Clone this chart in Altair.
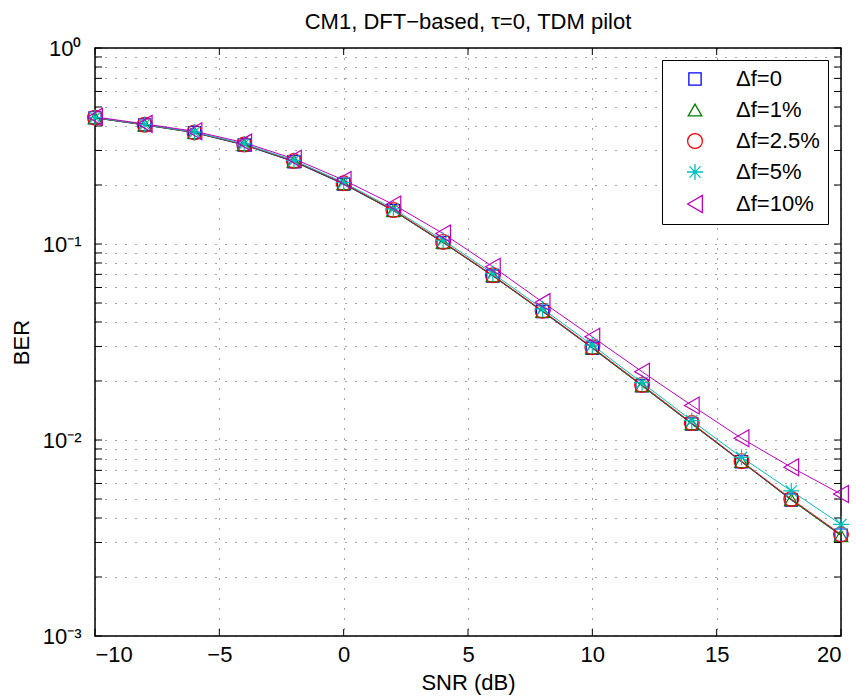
import json
import altair as alt
import pandas as pd

# ---------------- data ----------------
snr = [-10, -8, -6, -4, -2, 0, 2, 4, 6, 8, 10, 12, 14, 16, 18, 20]

ber_df0 = [0.440, 0.405, 0.370, 0.320, 0.263, 0.202, 0.148, 0.1016, 0.0687, 0.0452,
           0.0294, 0.0189, 0.01207, 0.00774, 0.00494, 0.00327]
ber_df1 = [0.440, 0.405, 0.370, 0.321, 0.264, 0.203, 0.148, 0.1018, 0.0688, 0.0453,
           0.0295, 0.0189, 0.0121, 0.00776, 0.00495, 0.00325]
ber_df25 = [0.441, 0.406, 0.371, 0.322, 0.265, 0.204, 0.149, 0.1025, 0.0692, 0.0456,
            0.0297, 0.0191, 0.0122, 0.0078, 0.0050, 0.0033]
ber_df5 = [0.442, 0.407, 0.372, 0.324, 0.267, 0.206, 0.151, 0.1045, 0.0707, 0.0467,
           0.0305, 0.0196, 0.01255, 0.00816, 0.0055, 0.00371]
ber_df10 = [0.445, 0.410, 0.376, 0.329, 0.272, 0.212, 0.159, 0.113, 0.0765, 0.0505,
            0.0336, 0.0223, 0.0150, 0.0102, 0.00726, 0.0053]

series_names = ["\u0394f=0", "\u0394f=1%", "\u0394f=2.5%", "\u0394f=5%", "\u0394f=10%"]
series_values = [ber_df0, ber_df1, ber_df25, ber_df5, ber_df10]

x_tick_values = [-10, -5, 0, 5, 10, 15, 20]
x_tick_labels = ["\u221210", "\u22125", "0", "5", "10", "15", "20"]
y_label_values = [0.001, 0.01, 0.1, 1]
y_label_texts = ["10\u207b\u00b3", "10\u207b\u00b2", "10\u207b\u00b9", "10\u2070"]
y_grid_values = [round(m * 10.0 ** e, 6) for e in (-3, -2, -1) for m in range(1, 10)] + [1]

title_text = "CM1, DFT\u2212based, \u03c4=0, TDM pilot"
x_title = "SNR (dB)"
y_title = "BER"

# ---------------- style ----------------
colors = ["#0000FF", "#008000", "#FF0000", "#00BFBF", "#BF00BF"]
STAR = "M-1,0L1,0M0,-1L0,1M-0.7,-0.7L0.7,0.7M-0.7,0.7L0.7,-0.7"
shapes = ["square", "triangle-up", "circle", STAR, "triangle-left"]
sizes = [150, 290, 220, 170, 300]
FONT = "Liberation Sans"
W, H = 746, 588

rows = []
for i, (name, vals) in enumerate(zip(series_names, series_values)):
    for s, v in zip(snr, vals):
        rows.append({"snr": s, "ber": v, "series": name, "line_id": i})
df = pd.DataFrame(rows)

xscale = alt.Scale(domain=[-10, 20], nice=False, zero=False)
yscale = alt.Scale(type="log", domain=[0.001, 1], nice=False)

x_expr = f"{json.dumps(x_tick_labels, ensure_ascii=False)}[indexof({json.dumps(x_tick_values)}, datum.value)]"
y_expr = (f"indexof({json.dumps(y_label_values)}, datum.value) >= 0 ? "
          f"{json.dumps(y_label_texts, ensure_ascii=False)}[indexof({json.dumps(y_label_values)}, datum.value)] : ''")

x_axis = alt.Axis(values=x_tick_values, labelExpr=x_expr, grid=True, gridDash=[1, 9],
                  gridColor="#000000", gridOpacity=0.7, gridWidth=1, ticks=False, tickSize=0,
                  domain=False, labelFont=FONT, labelFontSize=22, labelColor="black",
                  labelPadding=8, title=x_title, titleFont=FONT, titleFontSize=22,
                  titleFontWeight="normal", titleColor="black", titleY=53,
                  titleBaseline="alphabetic")
y_axis = alt.Axis(values=y_grid_values, labelExpr=y_expr, grid=True, gridDash=[1, 9],
                  gridColor="#000000", gridOpacity=0.7, gridWidth=1, ticks=False, tickSize=0,
                  domain=False, labelFont=FONT, labelFontSize=22, labelColor="black",
                  labelPadding=14, labelOverlap=False, labelFlush=False,
                  title=y_title, titleFont=FONT, titleFontSize=22,
                  titleFontWeight="normal", titleColor="black", titleX=-67, titleY=H / 2,
                  titleAngle=-90, titleAlign="center", titleBaseline="alphabetic")

legend = alt.Legend(orient="none", legendX=567, legendY=12, title=None,
                    labelFont=FONT, labelFontSize=22, labelColor="black",
                    padding=8, rowPadding=9, fillColor="white", strokeColor="black",
                    symbolStrokeWidth=1.3, symbolOffset=14, labelOffset=30)

X = alt.X("snr:Q", scale=xscale, axis=x_axis)
Y = alt.Y("ber:Q", scale=yscale, axis=y_axis)

base = alt.Chart(df)
lines = base.mark_line(strokeWidth=1).encode(
    x=X, y=Y,
    stroke=alt.Stroke("line_id:N", scale=alt.Scale(domain=[0, 1, 2, 3, 4], range=colors),
                      legend=None),
    detail="series:N",
)
points = base.mark_point(filled=False, strokeWidth=1.2, opacity=1).encode(
    x=X, y=Y,
    color=alt.Color("series:N", scale=alt.Scale(domain=series_names, range=colors), legend=legend),
    shape=alt.Shape("series:N", scale=alt.Scale(domain=series_names, range=shapes), legend=legend),
    size=alt.Size("series:N", scale=alt.Scale(domain=series_names, range=sizes), legend=legend),
)

ytick_df = pd.DataFrame({"ber": y_grid_values})
xtick_df = pd.DataFrame({"snr": x_tick_values})
TL = 7
left_ticks = alt.Chart(ytick_df).mark_rule(color="black", strokeWidth=1).encode(
    y=Y, x=alt.value(0), x2=alt.value(TL))
right_ticks = alt.Chart(ytick_df).mark_rule(color="black", strokeWidth=1).encode(
    y=Y, x=alt.value(W - TL), x2=alt.value(W))
bottom_ticks = alt.Chart(xtick_df).mark_rule(color="black", strokeWidth=1).encode(
    x=X, y=alt.value(H - TL), y2=alt.value(H))
top_ticks = alt.Chart(xtick_df).mark_rule(color="black", strokeWidth=1).encode(
    x=X, y=alt.value(0), y2=alt.value(TL))

chart = alt.layer(lines, points, left_ticks, right_ticks, bottom_ticks, top_ticks).properties(
    width=W, height=H,
    background="white",
    title=alt.TitleParams(title_text, font=FONT, fontSize=22, fontWeight="normal",
                          color="black", anchor="middle", offset=3),
    autosize=alt.AutoSizeParams(type="none"),
    padding={"left": 95, "top": 48, "right": 15, "bottom": 62},
).configure_view(stroke="black", strokeWidth=1.5)

chart.save("out.html", embed_options={"renderer": "svg", "actions": False})
